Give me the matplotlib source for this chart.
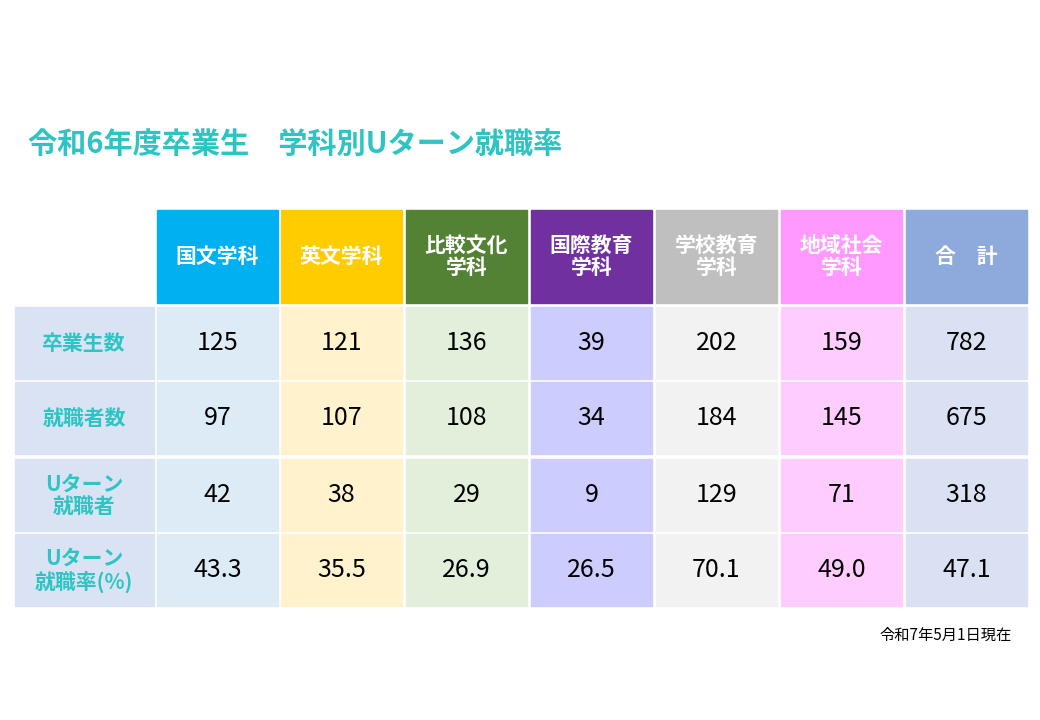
import matplotlib.pyplot as plt
from matplotlib.patches import Rectangle

plt.rcParams["font.family"] = "Noto Sans CJK JP"

title = "令和6年度卒業生　学科別Uターン就職率"
note = "令和7年5月1日現在"
departments = ["国文学科", "英文学科", "比較文化\n学科", "国際教育\n学科", "学校教育\n学科", "地域社会\n学科", "合　計"]
row_labels = ["卒業生数", "就職者数", "Uターン\n就職者", "Uターン\n就職率(%)"]
graduates = [125, 121, 136, 39, 202, 159, 782]
employed = [97, 107, 108, 34, 184, 145, 675]
uturn = [42, 38, 29, 9, 129, 71, 318]
uturn_rate = ["43.3", "35.5", "26.9", "26.5", "70.1", "49.0", "47.1"]

head_colors = ["#00B0F0", "#FFCC00", "#548235", "#7030A0", "#BFBFBF", "#FF99FF", "#8EA9DB"]
body_colors = ["#DDEBF7", "#FFF2CC", "#E2EFDA", "#CCCCFF", "#F2F2F2", "#FFCCFF", "#D9E1F2"]
teal = "#2EC4C4"

fig = plt.figure(figsize=(10.4, 7.2), dpi=100)
ax = fig.add_axes([0, 0, 1, 1])
ax.set_xlim(0, 1040)
ax.set_ylim(720, 0)
ax.axis("off")

ax.text(28, 145, title, fontsize=21, color=teal, fontweight="bold", va="center", ha="left")

col_x = [157, 281, 406, 531, 656, 781, 906]
col_w = 121
head_y, head_h = 210, 93
row_y = [307, 382, 459, 534]
row_h = 72

for j, dep in enumerate(departments):
    ax.add_patch(Rectangle((col_x[j], head_y), col_w, head_h, color=head_colors[j]))
    ax.text(col_x[j] + col_w / 2, head_y + head_h / 2, dep, fontsize=15, color="white",
            ha="center", va="center", linespacing=1.1, fontweight="bold")

rows = [graduates, employed, uturn, uturn_rate]
for i, lab in enumerate(row_labels):
    ax.add_patch(Rectangle((15, row_y[i]), 139, row_h, color="#DAE3F3"))
    ax.text(84, row_y[i] + row_h / 2, lab, fontsize=15, color=teal, ha="center", va="center",
            linespacing=1.1, fontweight="bold")
    for j, v in enumerate(rows[i]):
        ax.add_patch(Rectangle((col_x[j], row_y[i]), col_w, row_h, color=body_colors[j]))
        ax.text(col_x[j] + col_w / 2, row_y[i] + row_h / 2, str(v), fontsize=18,
                color="black", ha="center", va="center")

ax.text(1012, 635, note, fontsize=11, ha="right", va="center")

fig.savefig("out.png", dpi=100)
